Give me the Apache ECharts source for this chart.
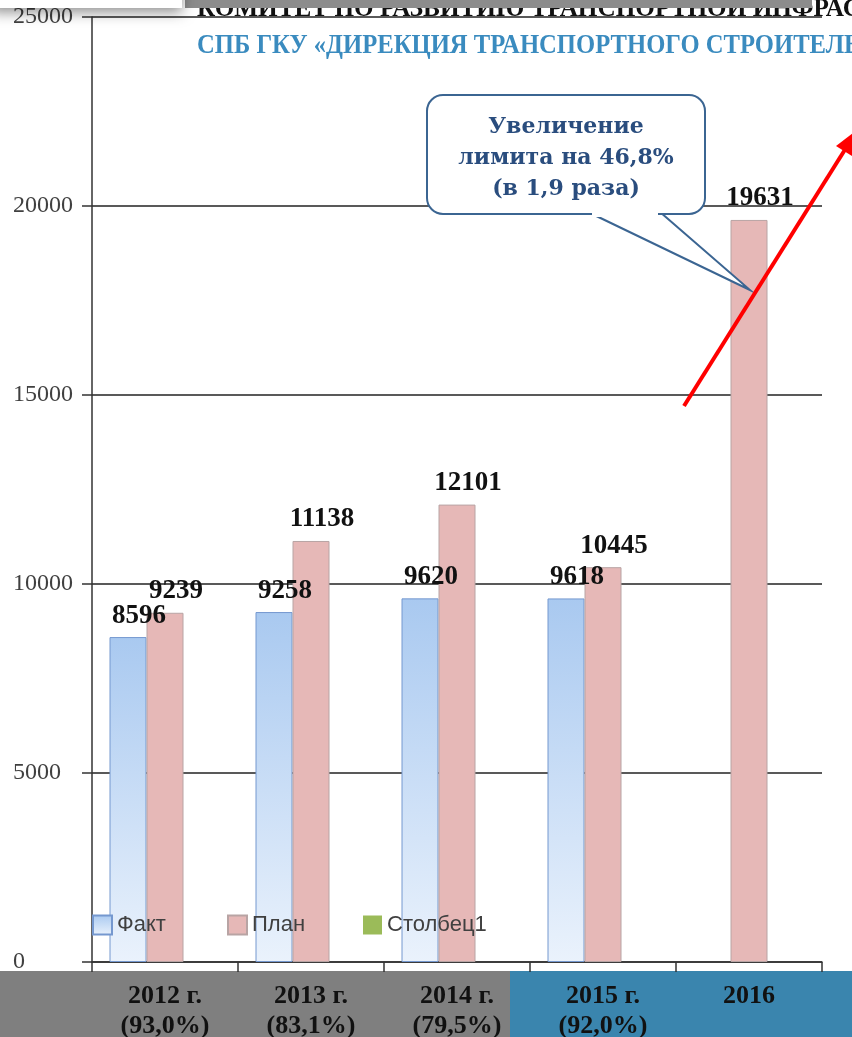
<!DOCTYPE html>
<html>
<head>
<meta charset="utf-8">
<script src="https://cdn.jsdelivr.net/npm/echarts@6/dist/echarts.min.js"></script>
<style>
html, body { margin: 0; padding: 0; background: #fff; }
#chart { width: 852px; height: 1037px; }
</style>
</head>
<body>
<div id="chart"></div>
<script>
var years = ['2012 г.', '2013 г.', '2014 г.', '2015 г.', '2016'];
var percents = ['(93,0%)', '(83,1%)', '(79,5%)', '(92,0%)', ''];
var fakt = [8596, 9258, 9620, 9618, null];
var plan = [9239, 11138, 12101, 10445, 19631];
var stolbec1 = [null, null, null, null, null];
var yTicks = { min: 0, max: 25000, interval: 5000 };

var serif = '"Liberation Serif", "Times New Roman", serif';
var sans = '"Liberation Sans", Arial, sans-serif';

var faktColor = {
	type: 'linear', x: 0, y: 0, x2: 0, y2: 1,
	colorStops: [{ offset: 0, color: '#a9c9f0' }, { offset: 1, color: '#eaf2fc' }]
};

var labelStyle = {
	show: true,
	position: 'top',
	distance: 8,
	offset: [11, 0],
	fontFamily: serif,
	fontWeight: 'bold',
	fontSize: 27,
	color: '#111'
};

var myChart = echarts.init(document.getElementById('chart'), null, { renderer: 'canvas' });
myChart.setOption({
	animation: false,
	backgroundColor: '#fff',
	grid: { left: 92, right: 30, top: 17, bottom: 75, containLabel: false, outerBoundsMode: 'none' },
	legend: [
		{ data: ['Факт'], left: 92, top: 914 },
		{ data: ['План'], left: 227, top: 914 },
		{ data: ['Столбец1'], left: 363, top: 914 }
	].map(function (l) {
		l.icon = 'rect';
		l.itemWidth = 19;
		l.itemHeight = 19;
		l.padding = 0;
		l.textStyle = { fontFamily: sans, fontSize: 22, color: '#404040' };
		return l;
	}),
	xAxis: [{
		type: 'category',
		data: years,
		axisLine: { lineStyle: { color: '#333', width: 1.5 } },
		axisTick: { show: true, length: 10, lineStyle: { color: '#333', width: 1.5 } },
		axisLabel: {
			margin: 19,
			interval: 0,
			formatter: function (v, i) {
				return percents[i] ? v + '\n' + percents[i] : v;
			},
			fontFamily: serif,
			fontWeight: 'bold',
			fontSize: 26,
			lineHeight: 30,
			color: '#111'
		}
	}],
	yAxis: [{
		type: 'value',
		min: yTicks.min,
		max: yTicks.max,
		interval: yTicks.interval,
		axisLine: { show: true, lineStyle: { color: '#333', width: 1.5 } },
		axisTick: { show: true, length: 10, lineStyle: { color: '#333', width: 1.5 } },
		splitLine: { lineStyle: { color: '#222', width: 1.5 } },
		axisLabel: {
			align: 'left',
			margin: 79,
			formatter: function (v) { return String(v); },
			fontFamily: serif,
			fontSize: 24,
			color: '#404040'
		}
	}],
	series: [
		{
			name: 'Факт',
			type: 'bar',
			data: fakt,
			barWidth: 37,
			barGap: '0%',
			itemStyle: { color: faktColor, borderColor: '#7598cf', borderWidth: 1 },
			label: labelStyle
		},
		{
			name: 'План',
			type: 'bar',
			data: plan,
			barWidth: 37,
			itemStyle: { color: '#e6b8b7', borderColor: '#b8a4a4', borderWidth: 1 },
			label: labelStyle
		},
		{
			name: 'Столбец1',
			type: 'bar',
			data: stolbec1,
			barWidth: 37,
			itemStyle: { color: '#9bbb59' }
		}
	],
	graphic: [
		// bottom bands behind the category labels
		{ type: 'rect', z: -10, shape: { x: 0, y: 971, width: 510, height: 70 }, style: { fill: '#7f7f7f' } },
		{ type: 'rect', z: -10, shape: { x: 510, y: 971, width: 350, height: 70 }, style: { fill: '#3a85ae' } },
		// header
		{
			type: 'text', z: 50, x: 197, y: 22, scaleX: 0.97,
			style: { text: 'КОМИТЕТ ПО РАЗВИТИЮ ТРАНСПОРТНОЙ ИНФРАСТРУКТУРЫ', fontFamily: serif, fontWeight: 'bold', fontSize: 26, fill: '#111', verticalAlign: 'bottom' }
		},
		{ type: 'rect', z: 51, shape: { x: 185, y: 0, width: 627, height: 8 }, style: { fill: '#8c8c8c' } },
		{
			type: 'text', z: 50, x: 197, y: 46, scaleX: 0.88,
			style: { text: 'СПБ ГКУ «ДИРЕКЦИЯ ТРАНСПОРТНОГО СТРОИТЕЛЬСТВА»', fontFamily: serif, fontWeight: 'bold', fontSize: 28, fill: '#3a8bbf', verticalAlign: 'middle' }
		},
		{
			type: 'rect', z: 52, shape: { x: -10, y: -20, width: 192, height: 28 },
			style: { fill: '#fff', shadowBlur: 14, shadowColor: 'rgba(0,0,0,0.45)', shadowOffsetY: 4 }
		},
		// callout
		{
			type: 'polygon', z: 60,
			shape: { points: [[588, 212], [750, 290], [660, 212]] },
			style: { fill: '#fff', stroke: '#3b6592', lineWidth: 2 }
		},
		{
			type: 'rect', z: 61, shape: { x: 427, y: 95, width: 278, height: 119, r: 16 },
			style: { fill: '#fff', stroke: '#3b6592', lineWidth: 2 }
		},
		{ type: 'rect', z: 62, shape: { x: 592, y: 209, width: 66, height: 8 }, style: { fill: '#fff' } },
		{
			type: 'text', z: 63, x: 566, y: 158,
			style: {
				text: 'Увеличение\nлимита на 46,8%\n(в 1,9 раза)',
				fontFamily: '"DejaVu Serif", serif', fontWeight: 'bold', fontSize: 22, lineHeight: 31,
				fill: '#2a4d7e', align: 'center', verticalAlign: 'middle'
			}
		},
		// red arrow
		{
			type: 'polyline', z: 70,
			shape: { points: [[684, 406], [846, 148]] },
			style: { stroke: '#ff0000', lineWidth: 4 }
		},
		{
			type: 'polygon', z: 70,
			shape: { points: [[857, 130], [852, 156], [836, 146]] },
			style: { fill: '#ff0000' }
		}
	]
});
</script>
</body>
</html>
